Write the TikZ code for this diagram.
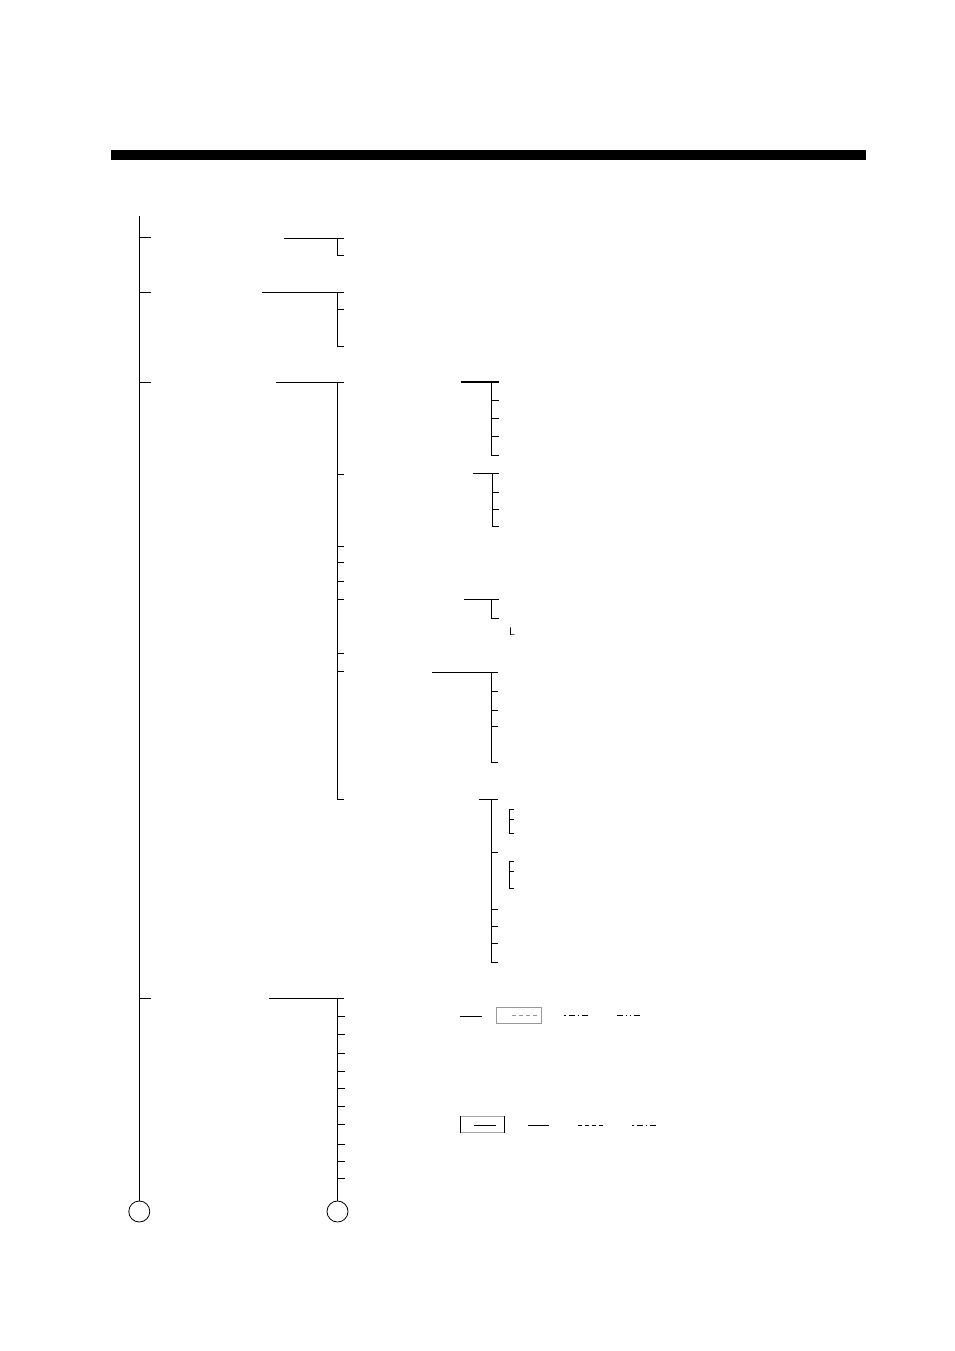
\documentclass[tikz,border=0pt]{standalone}
\begin{document}
\begin{tikzpicture}[x=1pt,y=-1pt,
  ln/.style={line width=1pt,line cap=butt},
  tick/.style={ln},
  endcirc/.style={draw,line width=0.8pt,circle,minimum size=21pt,inner sep=0pt},
  dashdot/.style={line width=0.8pt,dash pattern=on 1.5pt off 3pt on 6pt off 3pt},
  dashdotdot/.style={line width=0.8pt,dash pattern=on 6pt off 2.5pt on 1.5pt off 2.5pt on 1.5pt off 2.5pt},
  dashedln/.style={line width=0.8pt,dash pattern=on 4pt off 3pt}]
\useasboundingbox (0,0) rectangle (954,1351);
% top bar
\fill (111,150) rectangle (866,160);

% end circles
\node[endcirc] (c1) at (139.3,1211.5) {};
\node[endcirc] (c2) at (337.5,1211.5) {};

% main spine
\coordinate (s0) at (139.3,216);
\draw[ln] (s0) -- (c1.north);
\foreach \y in {237.3,292,382.3,998.3}
  \draw[ln] (139.3,\y) -- (150.5,\y);

% group A
\draw[ln] (284,238.3) -- (344,238.3);
\draw[ln] (337,238.3) -- (337,255.3) -- (344,255.3);

% group B
\draw[ln] (262,292) -- (344,292);
\draw[ln] (337,292) -- (337,346) -- (344,346);
\draw[ln] (337,309) -- (344,309);

% group C
\draw[ln] (276,382.3) -- (344,382.3);
\draw[ln] (337.7,382.3) -- (337.7,799.3) -- (344,799.3);
\foreach \y in {474.3,546,562.3,581.3,599.3,653.3,671.3}
  \draw[tick] (337.7,\y) -- (344,\y);

% C sub 1 (thick head)
\draw[line width=2pt] (461,382) -- (499,382);
\draw[ln] (491.7,382) -- (491.7,455.3) -- (499,455.3);
\foreach \y in {400.3,418.7,436.7}
  \draw[tick] (491.7,\y) -- (499,\y);

% C sub 2
\draw[ln] (473,473.3) -- (499,473.3);
\draw[ln] (492.3,473.3) -- (492.3,526) -- (499,526);
\foreach \y in {492.3,509}
  \draw[tick] (492.3,\y) -- (499,\y);

% C sub 3
\draw[ln] (464,599.3) -- (499,599.3);
\draw[ln] (491.7,599.3) -- (491.7,618.3) -- (499,618.3);
\node[font=\sffamily\fontsize{11}{12}\selectfont,inner sep=0pt,anchor=base west] (lbl) at (509,635.5) {L};

% C sub 4
\draw[ln] (432,672.3) -- (497.7,672.3);
\draw[ln] (491.7,672.3) -- (491.7,762.3) -- (497.7,762.3);
\foreach \y in {691.3,710,726}
  \draw[tick] (491.7,\y) -- (497.7,\y);

% C sub 5
\draw[ln] (479.3,799.3) -- (497.7,799.3);
\draw[ln] (491.3,799.3) -- (491.3,962.3) -- (497.7,962.3);
\foreach \y in {852.3,909,926.3,943.7}
  \draw[tick] (491.3,\y) -- (497.7,\y);
\draw[ln] (514,809.3) -- (509.3,809.3) -- (509.3,833.7) -- (514,833.7);
\draw[tick] (509.3,819.3) -- (514,819.3);
\draw[ln] (514,861) -- (509.3,861) -- (509.3,888.3) -- (514,888.3);
\draw[tick] (509.3,871) -- (514,871);

% group D
\draw[ln] (269,998.3) -- (344,998.3);
\draw[ln] (337.5,998.3) -- (c2.north);
\foreach \y in {1016.3,1034,1053,1071,1088.3,1106.3,1124.3,1144.3,1161.3,1178.3}
  \draw[tick] (337.5,\y) -- (345,\y);

% legend row 1
\draw[line width=0.8pt] (460,1016) -- (482,1016);
\draw[line width=1pt,gray!80] (496.7,1007.3) rectangle (541,1023.3);
\draw[dashedln,gray!80] (512.3,1015) -- (538.3,1015);
\draw[dashdot] (564,1015) -- (587.7,1015);
\draw[dashdotdot] (617.3,1015) -- (641.7,1015);

% legend row 2
\draw[line width=1pt,gray!70] (460.3,1116) -- (504.3,1116);
\draw[line width=1pt,gray!70] (460.3,1132.7) -- (504.3,1132.7);
\draw[line width=0.8pt] (460.3,1116) -- (460.3,1132.7);
\draw[line width=0.8pt] (504.3,1116) -- (504.3,1132.7);
\draw[line width=0.8pt] (474,1125) -- (496,1125);
\draw[line width=0.8pt] (528.3,1125) -- (549,1125);
\draw[dashedln] (577.7,1125) -- (603.3,1125);
\draw[dashdot] (632,1125) -- (656,1125);
\end{tikzpicture}
\end{document}
